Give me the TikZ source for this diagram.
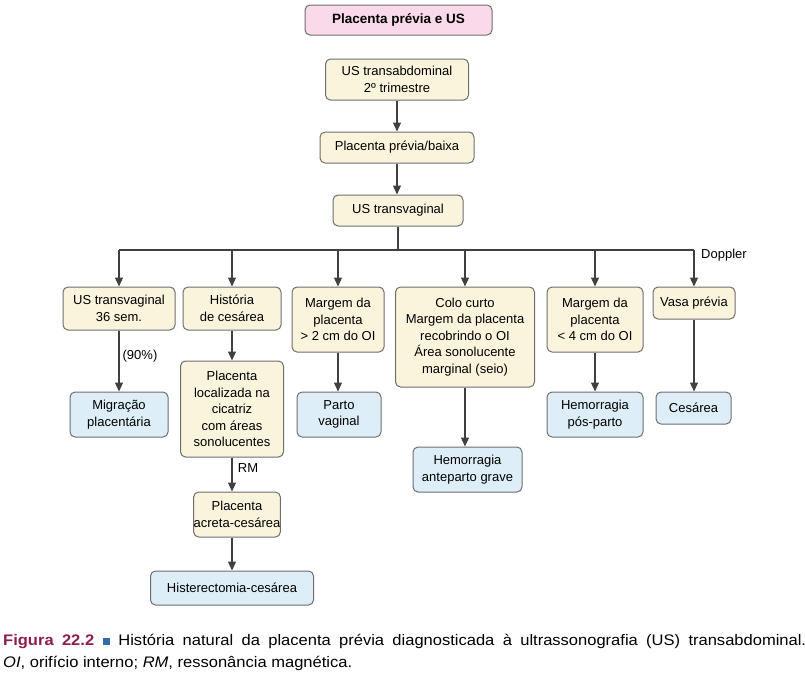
\documentclass[tikz,border=0pt]{standalone}
\usepackage{fontspec}
\setmainfont{Liberation Sans}
\newfontfamily\capfont[FakeStretch=1.08]{Liberation Sans}
\usetikzlibrary{arrows.meta,calc}
\definecolor{boxfill}{HTML}{FBF4DC}
\definecolor{bluefill}{HTML}{DDEEF8}
\definecolor{pinkfill}{HTML}{FADAEA}
\definecolor{boxline}{HTML}{6E6E6E}
\definecolor{arrowcol}{HTML}{404040}
\definecolor{figred}{HTML}{8E1C4E}
\definecolor{figblue}{HTML}{2F6CA8}
\tikzset{
  base/.style={draw=boxline, line width=1pt, rounded corners=5pt, align=center,
    inner sep=0pt, font=\fontsize{13}{16.5}\selectfont},
  ybox/.style={base, fill=boxfill},
  bbox/.style={base, fill=bluefill},
  pbox/.style={base, fill=pinkfill, font=\fontsize{13.5}{16}\selectfont\bfseries},
  conn/.style={draw=arrowcol, line width=1.1pt, -{Triangle[length=9pt,width=8pt]}},
  plain/.style={draw=arrowcol, line width=1.1pt},
  lbl/.style={font=\fontsize{13}{15}\selectfont, inner sep=0pt}
}
\begin{document}
\begin{tikzpicture}[x=1pt,y=-1pt]
\useasboundingbox (0,0) rectangle (805,683);
% top chain
\node[pbox, minimum width=187pt, minimum height=30pt] (title) at (398.5,20) {Placenta prévia e US};
\node[ybox, minimum width=143pt, minimum height=41pt] (tabd) at (397,79.5) {US transabdominal\\2º trimestre};
\node[ybox, minimum width=154pt, minimum height=31pt] (pb) at (397,147.5) {Placenta prévia/baixa};
\node[ybox, minimum width=130pt, minimum height=31pt] (tv) at (398,210.5) {US transvaginal};
% row 1
\node[ybox, minimum width=112pt, minimum height=43pt] (n1) at (119,308.5) {US transvaginal\\36 sem.};
\node[ybox, minimum width=98pt, minimum height=43pt] (n2) at (232,308.5) {História\\de cesárea};
\node[ybox, minimum width=92pt, minimum height=65pt] (n3) at (338,319.5) {Margem da\\placenta\\> 2 cm do OI};
\node[ybox, minimum width=139pt, minimum height=100pt] (n4) at (465,337) {Colo curto\\Margem da placenta\\recobrindo o OI\\Área sonolucente\\marginal (seio)};
\node[ybox, minimum width=96pt, minimum height=65pt] (n5) at (595,319.5) {Margem da\\placenta\\< 4 cm do OI};
\node[ybox, minimum width=82pt, minimum height=32pt] (n6) at (694,303) {Vasa prévia};
% row 2
\node[bbox, minimum width=98pt, minimum height=45pt] (m1) at (119,414.5) {Migração\\placentária};
\node[ybox, minimum width=103pt, minimum height=96pt] (m2) at (232,409) {Placenta\\localizada na\\cicatriz\\com áreas\\sonolucentes};
\node[bbox, minimum width=84pt, minimum height=45pt] (m3) at (339,414.5) {Parto\\vaginal};
\node[bbox, minimum width=109pt, minimum height=45pt] (m4) at (467.5,469.5) {Hemorragia\\anteparto grave};
\node[bbox, minimum width=96pt, minimum height=45pt] (m5) at (595,414.5) {Hemorragia\\pós-parto};
\node[bbox, minimum width=75pt, minimum height=32pt] (m6) at (693.5,408) {Cesárea};
\node[ybox, minimum width=86pt, minimum height=45pt] (a1) at (237,514.5) {Placenta\\acreta-cesárea};
\node[bbox, minimum width=163pt, minimum height=34pt] (h1) at (232,588) {Histerectomia-cesárea};
% labels
\node[lbl] (p90) at (140,356) {(90\%)};
\node[lbl] (rm) at (248,468) {RM};
\node[lbl] (dop) at (724,255) {Doppler};
% connectors
\draw[conn] (tabd.south) -- (tabd.south |- pb.north);
\draw[conn] (pb.south) -- (pb.south |- tv.north);
\coordinate (bus) at (398,250);
\draw[plain] (tv.south) -- (bus);
\draw[plain] (bus -| n1.north) -- (bus -| n6.north);
\foreach \n in {n1,n2,n3,n4,n5,n6}{
  \draw[conn] (bus -| \n.north) -- (\n.north);
}
\draw[conn] (n1.south) -- (n1.south |- m1.north);
\draw[conn] (n2.south) -- (n2.south |- m2.north);
\draw[conn] (n3.south) -- (n3.south |- m3.north);
\draw[conn] (n4.south) -- (n4.south |- m4.north);
\draw[conn] (n5.south) -- (n5.south |- m5.north);
\draw[conn] (n6.south) -- (n6.south |- m6.north);
\draw[conn] (m2.south) -- (m2.south |- a1.north);
\draw[conn] (a1.south -| m2.south) -- (m2.south |- h1.north);
% caption
\node[anchor=west, inner sep=0pt, font=\capfont\fontsize{15.3}{18}\selectfont] (cap1) at (3,641)
  {\makebox[803pt][s]{{\color{figred}\bfseries Figura 22.2} {\color{figblue}\rule{7.5pt}{7.5pt}} História natural da placenta prévia diagnosticada à ultrassonografia (US) transabdominal.}};
\node[anchor=west, inner sep=0pt, font=\capfont\fontsize{15.3}{18}\selectfont] (cap2) at (3,663)
  {\textit{OI}, orifício interno; \textit{RM}, ressonância magnética.};
\end{tikzpicture}
\end{document}
